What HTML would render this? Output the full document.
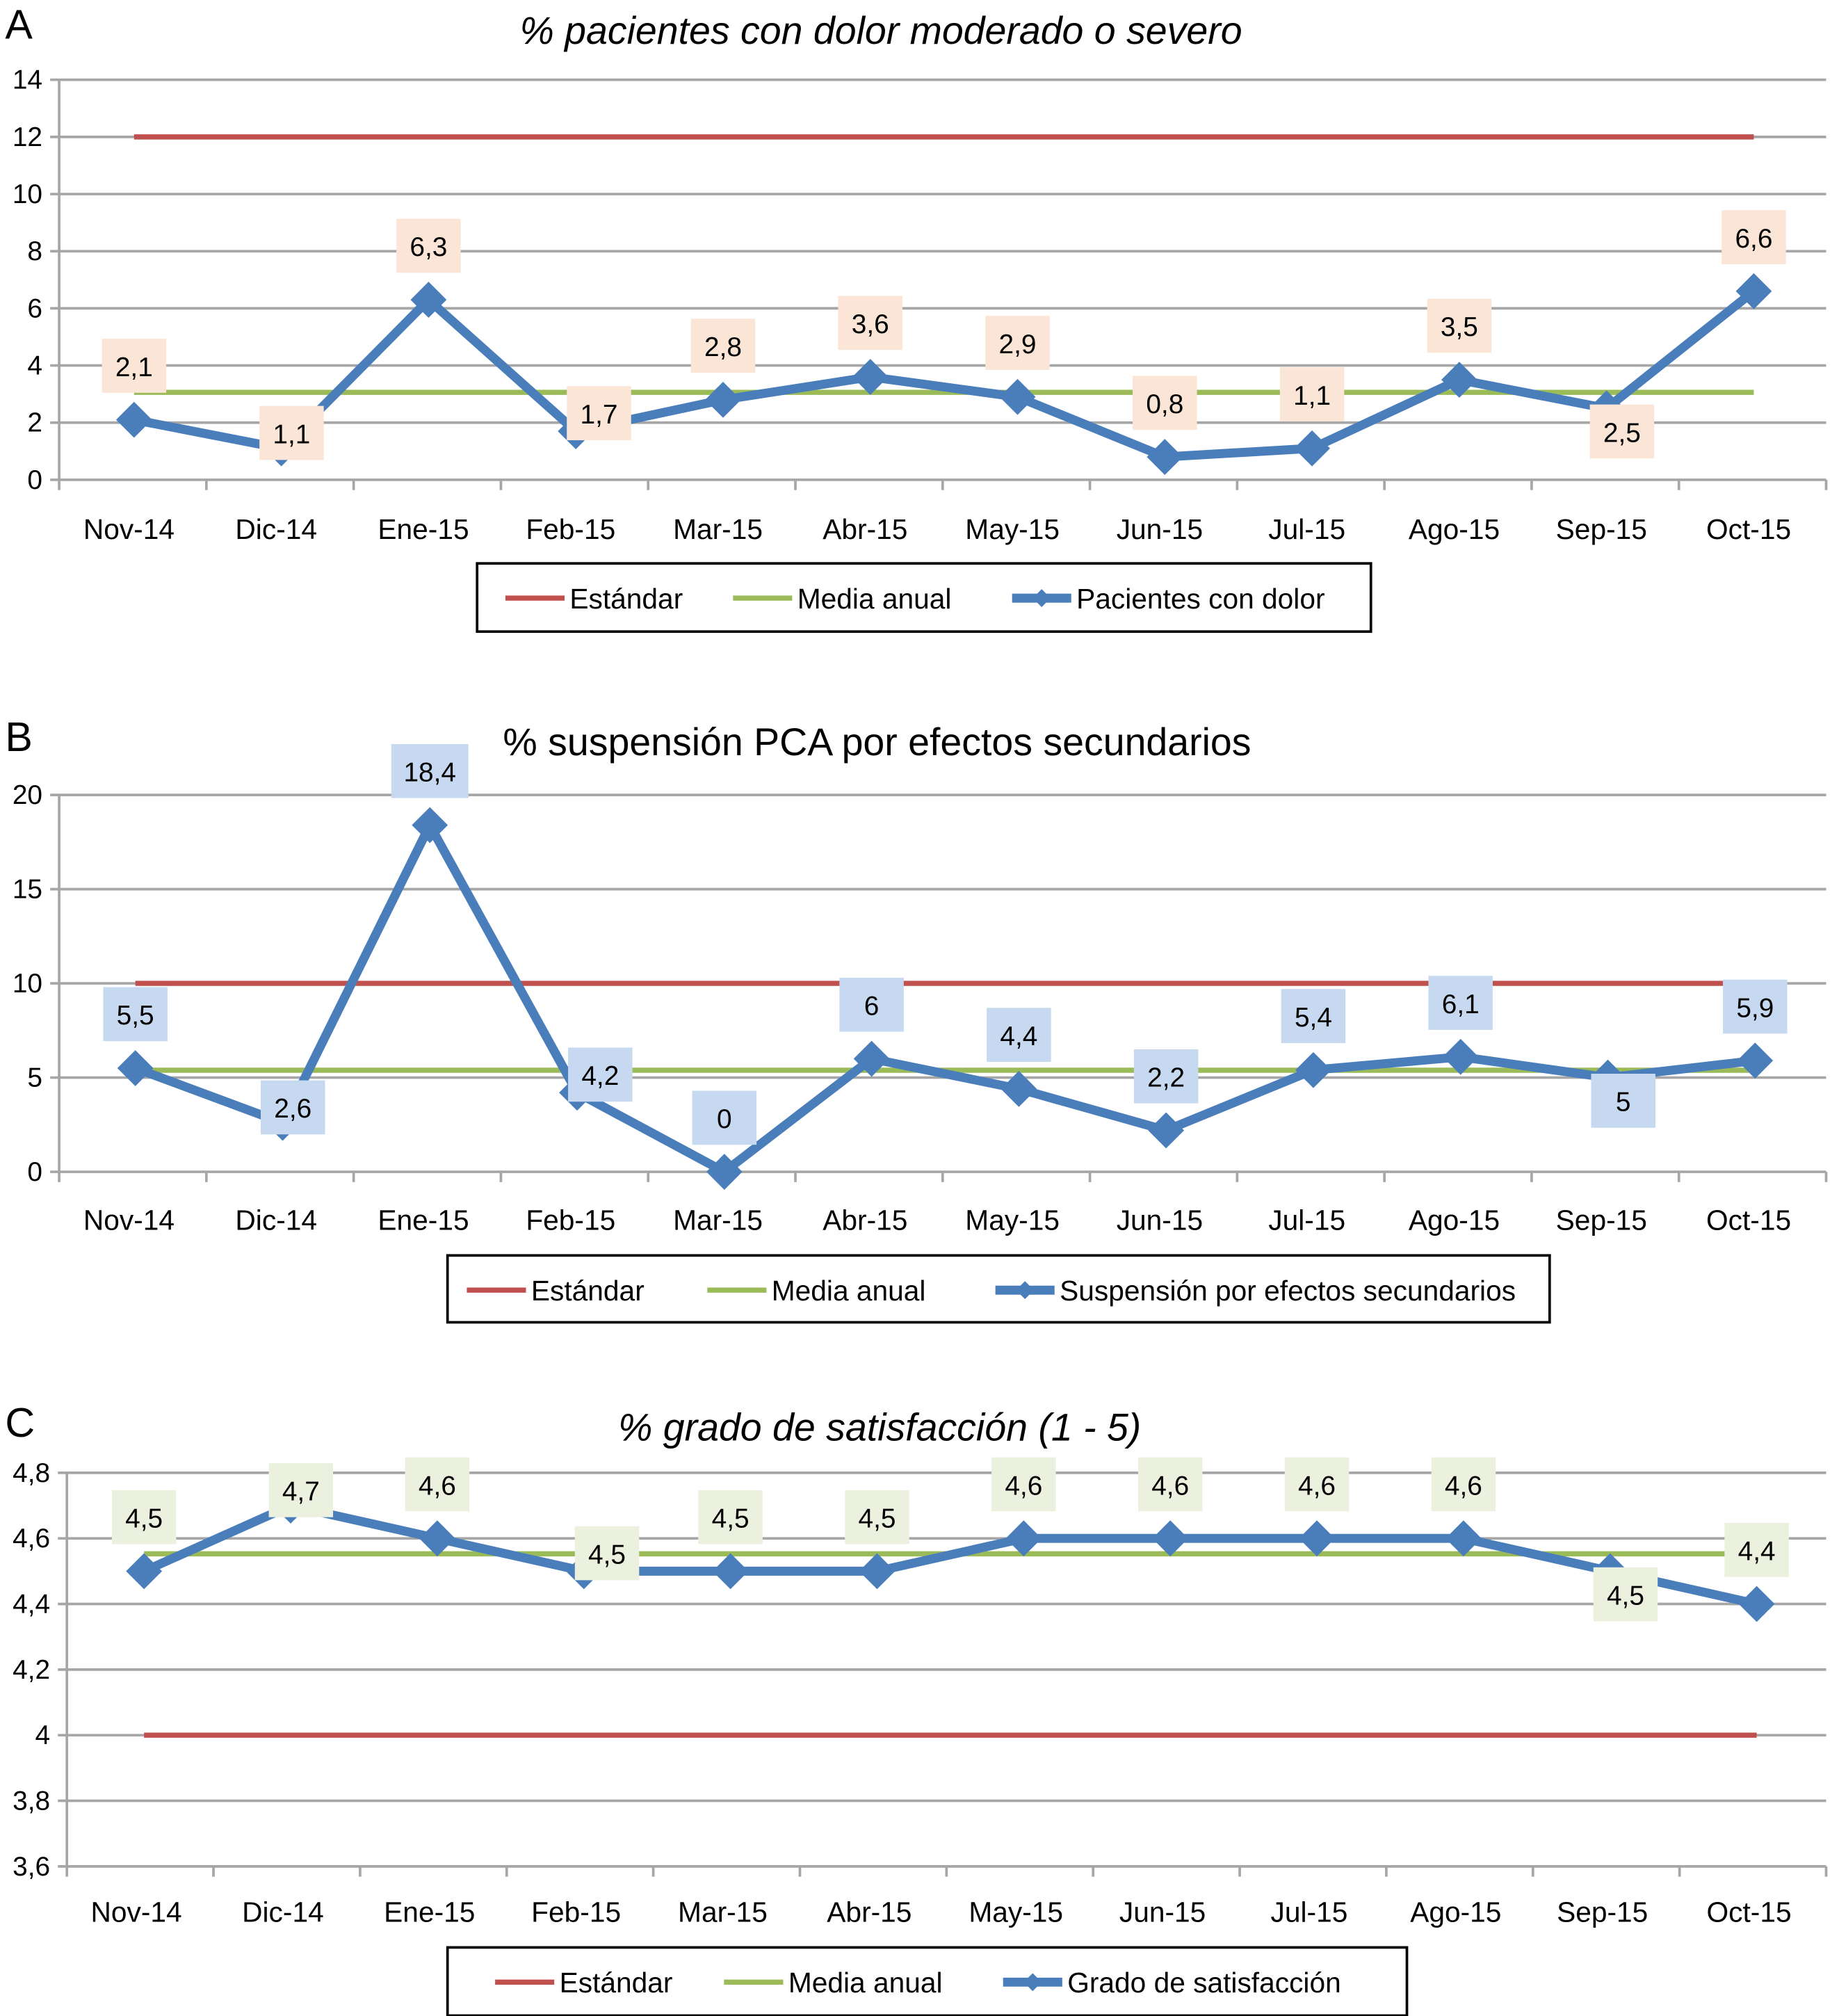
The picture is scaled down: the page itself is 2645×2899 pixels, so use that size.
<!DOCTYPE html>
<html><head><meta charset="utf-8"><style>
html,body{margin:0;padding:0;background:#fff}
svg{display:block}
text{font-family:"Liberation Sans",Arial,sans-serif;fill:#000}
</style></head><body>
<svg id="fig" xmlns="http://www.w3.org/2000/svg" width="2645" height="2899" viewBox="0 0 1430 1567.3"></svg>
<script>
const categories = ["Nov-14","Dic-14","Ene-15","Feb-15","Mar-15","Abr-15","May-15","Jun-15","Jul-15","Ago-15","Sep-15","Oct-15"];
const painValues = [2.1,1.1,6.3,1.7,2.8,3.6,2.9,0.8,1.1,3.5,2.5,6.6];
const painLabels = ["2,1","1,1","6,3","1,7","2,8","3,6","2,9","0,8","1,1","3,5","2,5","6,6"];
const painPlace = ["above","near","above","right","above","above","above","above","above","above","below","above"];
const painStandard = 12;
const painMean = 3.06;
const painTicks = [0,2,4,6,8,10,12,14];
const painTickLabels = ["0","2","4","6","8","10","12","14"];

const pcaValues = [5.5,2.6,18.4,4.2,0,6,4.4,2.2,5.4,6.1,5,5.9];
const pcaLabels = ["5,5","2,6","18,4","4,2","0","6","4,4","2,2","5,4","6,1","5","5,9"];
const pcaPlace = ["above","near","above","right","above","above","above","above","above","above","below","above"];
const pcaStandard = 10;
const pcaMean = 5.39;
const pcaTicks = [0,5,10,15,20];
const pcaTickLabels = ["0","5","10","15","20"];

const satValues = [4.5,4.7,4.6,4.5,4.5,4.5,4.6,4.6,4.6,4.6,4.5,4.4];
const satLabels = ["4,5","4,7","4,6","4,5","4,5","4,5","4,6","4,6","4,6","4,6","4,5","4,4"];
const satPlace = ["above","near","above","right","above","above","above","above","above","above","below","above"];
const satStandard = 4;
const satMean = 4.553;
const satTicks = [3.6,3.8,4,4.2,4.4,4.6,4.8];
const satTickLabels = ["3,6","3,8","4","4,2","4,4","4,6","4,8"];

const NS="http://www.w3.org/2000/svg";
const svg=document.getElementById('fig');
function mk(tag,attrs,parent){const e=document.createElementNS(NS,tag);for(const k in attrs)e.setAttribute(k,attrs[k]);(parent||svg).appendChild(e);return e;}
const BLUE="#4a7ebb",RED="#c0504d",GREEN="#9bbb59",GRID="#a6a6a6";

function chart(cfg){
  const g=mk('g',{});
  
  
  const n=categories.length, step=(cfg.right-cfg.left)/n;
  const x=i=>cfg.left+step*(i+0.5)+cfg.xoff;
  const y=v=>cfg.bot-(v-cfg.min)/(cfg.max-cfg.min)*(cfg.bot-cfg.top);
  const lt=mk('text',{x:4,y:cfg.letterY,'font-size':32},g);lt.textContent=cfg.letter;
  
  const tt=mk('text',{x:cfg.titleX,y:cfg.titleY,'font-size':30,'text-anchor':'middle','font-style':cfg.italic?'italic':'normal'},g);
  tt.textContent=cfg.title;
  cfg.ticks.forEach((t,i)=>{
    const l=mk('line',{x1:cfg.left-7,x2:cfg.right,y1:y(t),y2:y(t),stroke:GRID,'stroke-width':2},g);
    
    const tx=mk('text',{x:cfg.left-13,y:y(t)+7,'font-size':21,'text-anchor':'end'},g);
    tx.textContent=cfg.tickLabels[i];
  });
  const ax=mk('line',{x1:cfg.left,x2:cfg.left,y1:cfg.top,y2:cfg.bot+8,stroke:GRID,'stroke-width':2},g);
  
  for(let i=1;i<=n;i++){const tk=mk('line',{x1:cfg.left+step*i,x2:cfg.left+step*i,y1:cfg.bot,y2:cfg.bot+8,stroke:GRID,'stroke-width':2},g);
    }
  categories.forEach((c,i)=>{const t=mk('text',{x:cfg.left+step*(i+0.5)-3,y:cfg.xLabelY,'font-size':22,'text-anchor':'middle'},g);
    t.textContent=c;});
  const rl=mk('line',{x1:x(0),x2:x(n-1),y1:y(cfg.standard),y2:y(cfg.standard),stroke:RED,'stroke-width':4},g);
  
  const gl=mk('line',{x1:x(0),x2:x(n-1),y1:y(cfg.mean),y2:y(cfg.mean),stroke:GREEN,'stroke-width':4},g);
  
  const pts=cfg.values.map((v,i)=>x(i)+','+y(v)).join(' ');
  const pl=mk('polyline',{points:pts,fill:'none',stroke:BLUE,'stroke-width':7,'stroke-linejoin':'miter'},g);
  
  cfg.values.forEach((v,i)=>{const cx=x(i),cy=y(v),r=14;
    const d=mk('polygon',{points:`${cx},${cy-r} ${cx+r},${cy} ${cx},${cy+r} ${cx-r},${cy}`,fill:BLUE},g);
    });
  cfg.values.forEach((v,i)=>{const p=cfg.place[i];let dx=0,dy=-42;
    if(p==='below'){dx=12;dy=18;} if(p==='right'){dx=18;dy=-14;} if(p==='near'){dx=8;dy=-12;}
    const cx=x(i)+dx,cy=y(v)+dy,w=cfg.labels[i].length>3?60:50;
    const b=mk('rect',{x:cx-w/2,y:cy-21,width:w,height:42,fill:cfg.boxColor},g);
    
    const t=mk('text',{x:cx,y:cy+8,'font-size':21,'text-anchor':'middle'},g);t.textContent=cfg.labels[i];
    });
  const L=cfg.legend;
  const lb=mk('rect',{x:L.x,y:L.y,width:L.w,height:L.h,fill:'#fff',stroke:'#000','stroke-width':2},g);
  
  const cy=L.y+27;
  [[RED,L.e[0],'Estándar'],[GREEN,L.e[1],'Media anual'],[BLUE,L.e[2],cfg.seriesName]].forEach((e,k)=>{
    const ln=mk('line',{x1:e[1],x2:e[1]+46,y1:cy,y2:cy,stroke:e[0],'stroke-width':k==2?7:4},g);
    
    if(k==2){const m=e[1]+23;const dm=mk('polygon',{points:`${m},${cy-7} ${m+7},${cy} ${m},${cy+7} ${m-7},${cy}`,fill:BLUE},g);
      }
    const t=mk('text',{x:e[1]+50,y:cy+8,'font-size':22},g);t.textContent=e[2];
    });
}
chart({name:'chart-a-pain',letter:'A',letterY:30,title:'% pacientes con dolor moderado o severo',italic:true,titleX:685,titleY:34,
  left:46,right:1420,top:62,bot:373,min:0,max:14,xoff:1,ticks:painTicks,tickLabels:painTickLabels,xLabelY:419,
  values:painValues,labels:painLabels,place:painPlace,standard:painStandard,mean:painMean,boxColor:'#fbe5d6',
  seriesName:'Pacientes con dolor',legend:{x:371,y:438,w:695,h:53,e:[393,570,787]}});
chart({name:'chart-b-pca',letter:'B',letterY:584,title:'% suspensión PCA por efectos secundarios',italic:false,titleX:682,titleY:587,
  left:46,right:1420,top:618,bot:911,min:0,max:20,xoff:2,ticks:pcaTicks,tickLabels:pcaTickLabels,xLabelY:956,
  values:pcaValues,labels:pcaLabels,place:pcaPlace,standard:pcaStandard,mean:pcaMean,boxColor:'#c6d9f1',
  seriesName:'Suspensión por efectos secundarios',legend:{x:348,y:976,w:857,h:52,e:[363,550,774]}});
chart({name:'chart-c-satisfaction',letter:'C',letterY:1117,title:'% grado de satisfacción (1 - 5)',italic:true,titleX:684,titleY:1120,
  left:52,right:1420,top:1145,bot:1451,min:3.6,max:4.8,xoff:3,ticks:satTicks,tickLabels:satTickLabels,xLabelY:1494,
  values:satValues,labels:satLabels,place:satPlace,standard:satStandard,mean:satMean,boxColor:'#ebf1de',
  seriesName:'Grado de satisfacción',legend:{x:348,y:1514,w:746,h:53,e:[385,563,780]}});
</script>
</body></html>
